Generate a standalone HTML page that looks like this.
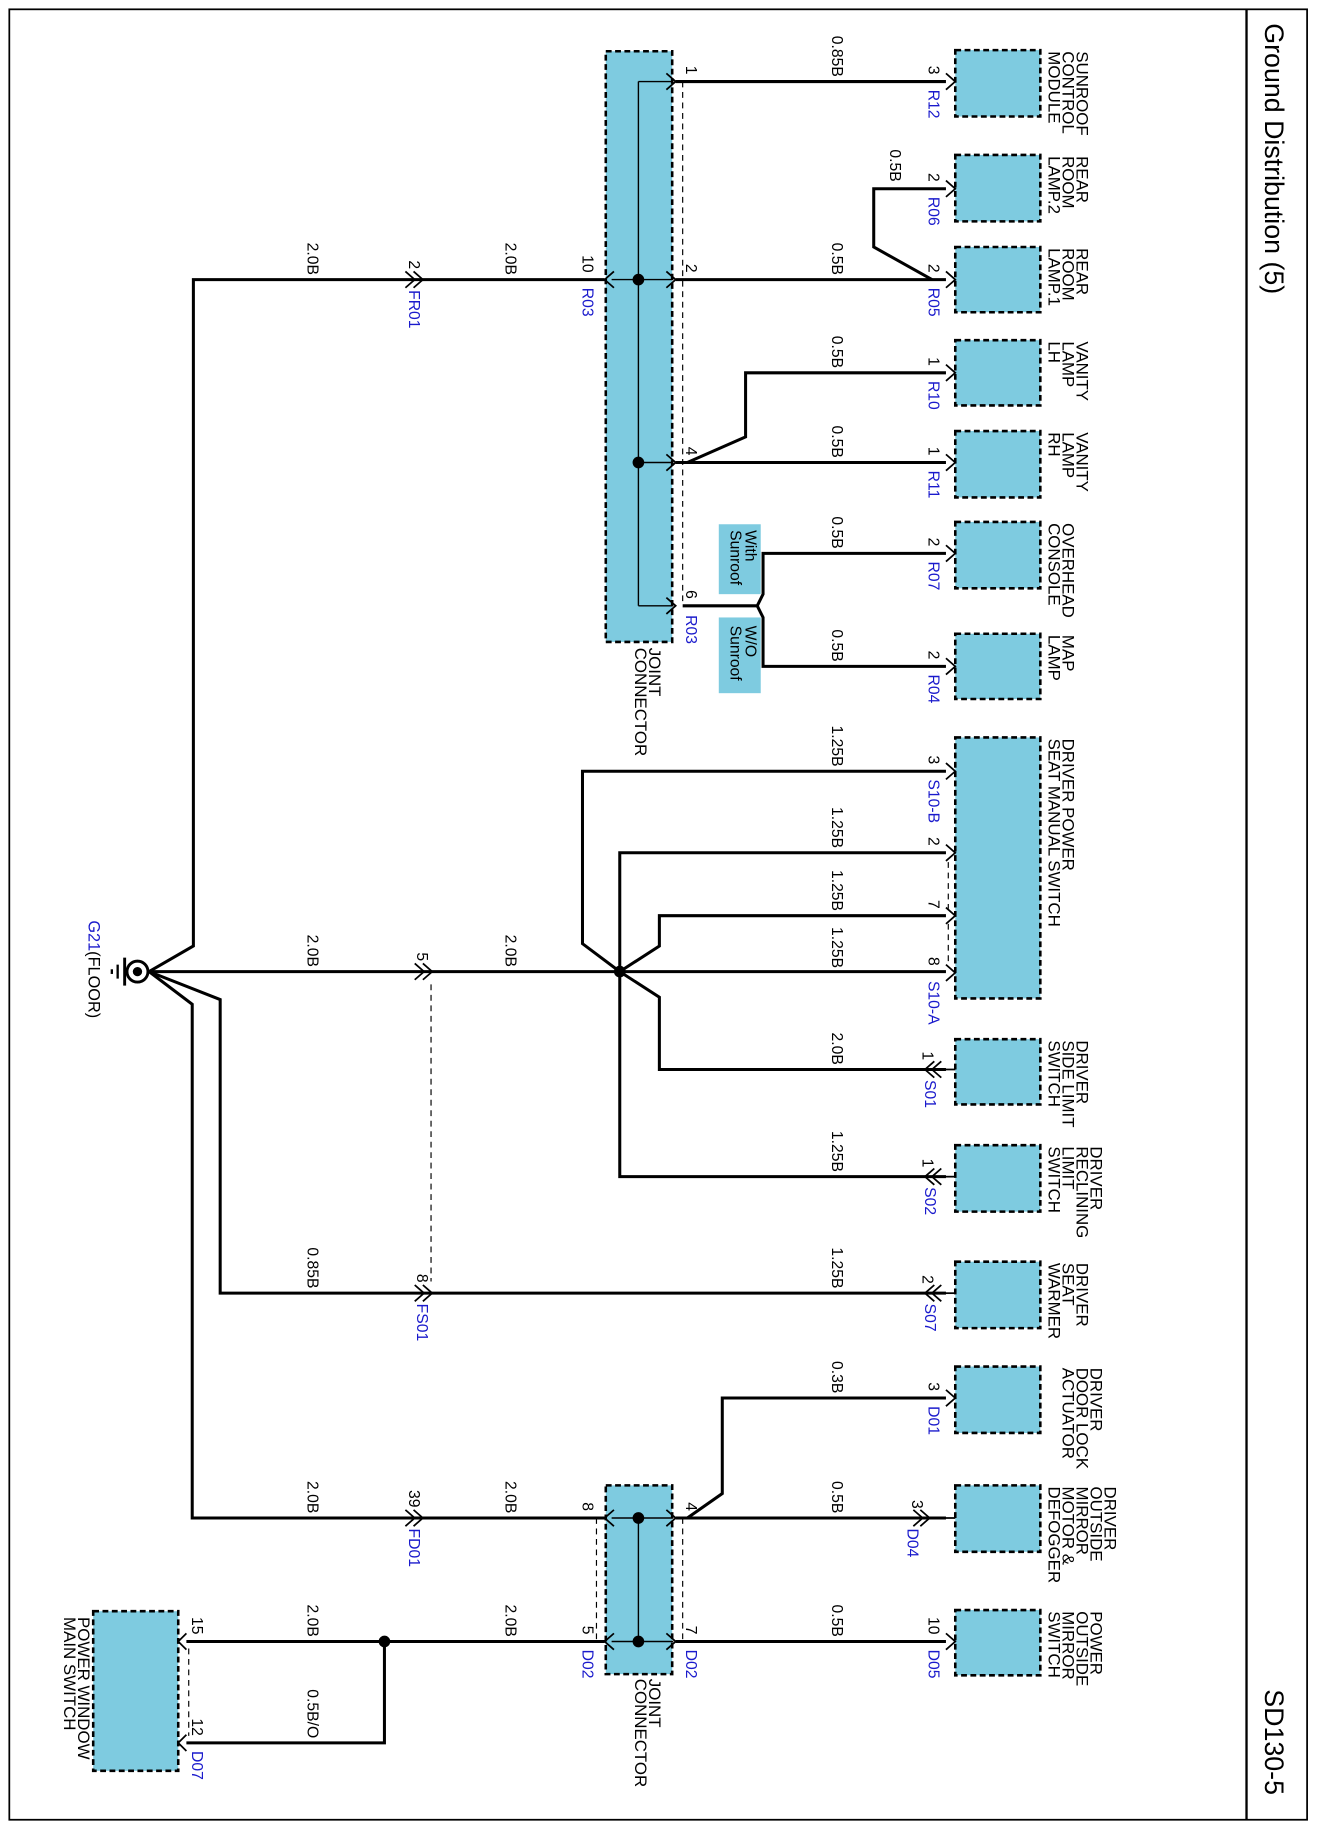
<!DOCTYPE html>
<html><head><meta charset="utf-8"><style>
html,body{margin:0;padding:0;background:#fff;}
svg{display:block;}
text{font-family:"Liberation Sans",Arial,sans-serif;}
.w{fill:none;stroke:#000;stroke-width:2.6;}
.t{fill:none;stroke:#000;stroke-width:1.2;}
.d{fill:none;stroke:#000;stroke-width:1;stroke-dasharray:5,4;}
.box{fill:#7ecbe0;stroke:#000;stroke-width:2.2;stroke-dasharray:5,3;}
.l{font-size:13.5px;fill:#000;}
.b{font-size:13.5px;fill:#1a1acc;}
.c{font-size:14.5px;fill:#000;}
</style></head><body>
<svg width="1317" height="1830" viewBox="0 0 1130.5 1570.8" preserveAspectRatio="none" xmlns="http://www.w3.org/2000/svg">
<rect x="8" y="8" width="1114" height="1554" fill="none" stroke="#000" stroke-width="1.5"/>
<line x1="1070" y1="8" x2="1070" y2="1562" stroke="#000" stroke-width="2"/>
<text transform="translate(1086,20) rotate(90)" style="font-size:23px">Ground Distribution (5)</text>
<text transform="translate(1086,1450) rotate(90)" style="font-size:23px">SD130-5</text>

<rect class="box" x="820" y="43" width="73" height="57"/>
<rect class="box" x="820" y="133" width="73" height="57"/>
<rect class="box" x="820" y="212" width="73" height="56"/>
<rect class="box" x="820" y="292" width="73" height="56"/>
<rect class="box" x="820" y="370" width="73" height="57"/>
<rect class="box" x="820" y="448" width="73" height="57"/>
<rect class="box" x="820" y="544" width="73" height="56"/>
<rect class="box" x="820" y="633" width="73" height="224"/>
<rect class="box" x="820" y="892" width="73" height="56"/>
<rect class="box" x="820" y="983" width="73" height="57"/>
<rect class="box" x="820" y="1083" width="73" height="57"/>
<rect class="box" x="820" y="1173" width="73" height="57"/>
<rect class="box" x="820" y="1275" width="73" height="57"/>
<rect class="box" x="820" y="1382" width="73" height="56"/>
<rect class="box" x="80" y="1383" width="73" height="137"/>
<rect class="box" x="520" y="44" width="57" height="507"/>
<rect class="box" x="520" y="1275" width="57" height="162"/>

<line class="t" x1="548" y1="70" x2="548" y2="520"/>
<line class="t" x1="548" y1="70" x2="578" y2="70"/>
<line class="t" x1="525" y1="240" x2="578" y2="240"/>
<line class="t" x1="548" y1="397" x2="578" y2="397"/>
<line class="t" x1="548" y1="520" x2="578" y2="520"/>
<line class="d" x1="586" y1="70" x2="586" y2="520"/>
<circle cx="548" cy="240" r="5"/><circle cx="548" cy="397" r="5"/>
<line class="t" x1="548" y1="1303" x2="548" y2="1409"/>
<line class="t" x1="525" y1="1303" x2="578" y2="1303"/>
<line class="t" x1="525" y1="1409" x2="578" y2="1409"/>
<line class="d" x1="512" y1="1303" x2="512" y2="1409"/>
<line class="d" x1="586" y1="1303" x2="586" y2="1409"/>
<circle cx="548" cy="1303" r="5"/><circle cx="548" cy="1409" r="5"/>

<g class="t" style="stroke-width:1.5">
<path d="M572,63 L580,70 L572,77"/><path d="M572,233 L580,240 L572,247"/><path d="M572,390 L580,397 L572,404"/><path d="M572,513 L580,520 L572,527"/>
<path d="M527,233 L519,240 L527,247"/>
<path d="M572,1296 L580,1303 L572,1310"/><path d="M572,1402 L580,1409 L572,1416"/>
<path d="M527,1296 L519,1303 L527,1310"/><path d="M527,1402 L519,1409 L527,1416"/>
</g>

<path class="w" d="M580,70 H812"/>
<path class="w" d="M812,162 H750 V212 L800,240"/>
<path class="w" d="M580,240 H812"/>
<path class="w" d="M812,320 H640 V375 L590,397"/>
<path class="w" d="M580,397 H812"/>
<path class="w" d="M586,520 H650 L655,510 V475 H812"/>
<path class="w" d="M650,520 L655,530 V572 H812"/>
<path class="w" d="M812,662 H500 V810 L532,834"/>
<path class="w" d="M812,732 H532 V1010 H812"/>
<path class="w" d="M812,786 H566 V812 L532,834 L566,856 V918 H812"/>
<path class="w" d="M128,834 H812"/>
<path class="w" d="M128,834 L166,812 V240 H519"/>
<path class="w" d="M128,834 L189,858 V1110 H812"/>
<path class="w" d="M128,834 L165,862 V1303 H519"/>
<path class="w" d="M580,1303 H812"/>
<path class="w" d="M590,1303 L620,1282 V1200 H812"/>
<path class="w" d="M580,1409 H812"/>
<path class="w" d="M519,1409 H160"/>
<path class="w" d="M330,1409 V1496 H160"/>
<circle cx="532" cy="834" r="5"/><circle cx="330" cy="1409" r="5"/>
<line class="d" x1="370" y1="845" x2="370" y2="1100"/>
<line class="d" x1="162" y1="1415" x2="162" y2="1490"/>
<line class="d" x1="814" y1="740" x2="814" y2="780"/>
<line class="d" x1="814" y1="793" x2="814" y2="828"/>

<g class="t" style="stroke-width:1.5">
<path d="M812,63 L820,70 L812,77"/><path d="M812,155 L820,162 L812,169"/><path d="M812,233 L820,240 L812,247"/>
<path d="M812,313 L820,320 L812,327"/><path d="M812,390 L820,397 L812,404"/><path d="M812,468 L820,475 L812,482"/>
<path d="M812,565 L820,572 L812,579"/><path d="M812,655 L820,662 L812,669"/><path d="M812,725 L820,732 L812,739"/>
<path d="M812,779 L820,786 L812,793"/><path d="M812,828 L820,835 L812,842"/>
<path d="M802,911 L794,918 L802,925"/><path d="M808,911 L800,918 L808,925"/><line x1="808" y1="918" x2="820" y2="918"/>
<path d="M802,1003 L794,1010 L802,1017"/><path d="M808,1003 L800,1010 L808,1017"/><line x1="808" y1="1010" x2="820" y2="1010"/>
<path d="M802,1103 L794,1110 L802,1117"/><path d="M808,1103 L800,1110 L808,1117"/><line x1="808" y1="1110" x2="820" y2="1110"/>
<path d="M812,1193 L820,1200 L812,1207"/>
<path d="M784,1296 L792,1303 L784,1310"/><path d="M790,1296 L798,1303 L790,1310"/><line x1="798" y1="1303" x2="820" y2="1303"/>
<path d="M812,1402 L820,1409 L812,1416"/>
<path d="M160,1402 L153,1409 L160,1416"/><path d="M160,1489 L153,1496 L160,1503"/>
<path d="M348,233 L356,240 L348,247"/><path d="M355,233 L363,240 L355,247"/>
<path d="M356,827 L364,834 L356,841"/><path d="M363,827 L371,834 L363,841"/>
<path d="M356,1103 L364,1110 L356,1117"/><path d="M363,1103 L371,1110 L363,1117"/>
<path d="M348,1296 L356,1303 L348,1310"/><path d="M355,1296 L363,1303 L355,1310"/>
</g>

<circle cx="118" cy="834" r="9" fill="#fff" stroke="#000" stroke-width="2.5"/>
<circle cx="118" cy="834" r="4"/>
<line x1="107" y1="822" x2="107" y2="846" stroke="#000" stroke-width="2.5"/>
<line x1="101" y1="828" x2="101" y2="840" stroke="#000" stroke-width="2"/>
<line x1="96" y1="832" x2="96" y2="836" stroke="#000" stroke-width="2"/>
<text transform="translate(76,790) rotate(90)" style="font-size:14px"><tspan fill="#1a1acc">G21</tspan><tspan fill="#000">(FLOOR)</tspan></text>

<g class="l" text-anchor="end">
<text transform="translate(714,66) rotate(90)">0.85B</text>
<text transform="translate(764,156) rotate(90)">0.5B</text>
<text transform="translate(714,236) rotate(90)">0.5B</text>
<text transform="translate(714,316) rotate(90)">0.5B</text>
<text transform="translate(714,393) rotate(90)">0.5B</text>
<text transform="translate(714,471) rotate(90)">0.5B</text>
<text transform="translate(714,568) rotate(90)">0.5B</text>
<text transform="translate(714,658) rotate(90)">1.25B</text>
<text transform="translate(714,728) rotate(90)">1.25B</text>
<text transform="translate(714,782) rotate(90)">1.25B</text>
<text transform="translate(714,831) rotate(90)">1.25B</text>
<text transform="translate(714,914) rotate(90)">2.0B</text>
<text transform="translate(714,1006) rotate(90)">1.25B</text>
<text transform="translate(714,1106) rotate(90)">1.25B</text>
<text transform="translate(714,1196) rotate(90)">0.3B</text>
<text transform="translate(714,1299) rotate(90)">0.5B</text>
<text transform="translate(714,1405) rotate(90)">0.5B</text>
<text transform="translate(264,236) rotate(90)">2.0B</text>
<text transform="translate(434,236) rotate(90)">2.0B</text>
<text transform="translate(264,830) rotate(90)">2.0B</text>
<text transform="translate(434,830) rotate(90)">2.0B</text>
<text transform="translate(264,1106) rotate(90)">0.85B</text>
<text transform="translate(264,1299) rotate(90)">2.0B</text>
<text transform="translate(434,1299) rotate(90)">2.0B</text>
<text transform="translate(264,1405) rotate(90)">2.0B</text>
<text transform="translate(434,1405) rotate(90)">2.0B</text>
<text transform="translate(264,1492) rotate(90)">0.5B/O</text>
</g>

<g class="l" text-anchor="end">
<text transform="translate(797,64) rotate(90)">3</text>
<text transform="translate(797,156) rotate(90)">2</text>
<text transform="translate(797,234) rotate(90)">2</text>
<text transform="translate(797,314) rotate(90)">1</text>
<text transform="translate(797,391) rotate(90)">1</text>
<text transform="translate(797,469) rotate(90)">2</text>
<text transform="translate(797,566) rotate(90)">2</text>
<text transform="translate(797,656) rotate(90)">3</text>
<text transform="translate(797,726) rotate(90)">2</text>
<text transform="translate(797,780) rotate(90)">7</text>
<text transform="translate(797,829) rotate(90)">8</text>
<text transform="translate(792,910) rotate(90)">1</text>
<text transform="translate(792,1002) rotate(90)">1</text>
<text transform="translate(792,1102) rotate(90)">2</text>
<text transform="translate(797,1194) rotate(90)">3</text>
<text transform="translate(783,1295) rotate(90)">3</text>
<text transform="translate(797,1403) rotate(90)">10</text>
<text transform="translate(589,64) rotate(90)">1</text>
<text transform="translate(589,234) rotate(90)">2</text>
<text transform="translate(589,391) rotate(90)">4</text>
<text transform="translate(589,514) rotate(90)">6</text>
<text transform="translate(500,234) rotate(90)">10</text>
<text transform="translate(351,231) rotate(90)">2</text>
<text transform="translate(358,825) rotate(90)">5</text>
<text transform="translate(358,1101) rotate(90)">8</text>
<text transform="translate(351,1294) rotate(90)">39</text>
<text transform="translate(500,1297) rotate(90)">8</text>
<text transform="translate(500,1403) rotate(90)">5</text>
<text transform="translate(589,1297) rotate(90)">4</text>
<text transform="translate(589,1403) rotate(90)">7</text>
<text transform="translate(165,1403) rotate(90)">15</text>
<text transform="translate(165,1490) rotate(90)">12</text>
</g>

<g class="b">
<text transform="translate(797,77) rotate(90)">R12</text>
<text transform="translate(797,169) rotate(90)">R06</text>
<text transform="translate(797,247) rotate(90)">R05</text>
<text transform="translate(797,327) rotate(90)">R10</text>
<text transform="translate(797,404) rotate(90)">R11</text>
<text transform="translate(797,482) rotate(90)">R07</text>
<text transform="translate(797,579) rotate(90)">R04</text>
<text transform="translate(797,669) rotate(90)">S10-B</text>
<text transform="translate(797,842) rotate(90)">S10-A</text>
<text transform="translate(794,927) rotate(90)">S01</text>
<text transform="translate(794,1019) rotate(90)">S02</text>
<text transform="translate(794,1119) rotate(90)">S07</text>
<text transform="translate(797,1207) rotate(90)">D01</text>
<text transform="translate(779,1312) rotate(90)">D04</text>
<text transform="translate(797,1416) rotate(90)">D05</text>
<text transform="translate(500,247) rotate(90)">R03</text>
<text transform="translate(589,528) rotate(90)">R03</text>
<text transform="translate(351,249) rotate(90)">FR01</text>
<text transform="translate(358,1119) rotate(90)">FS01</text>
<text transform="translate(351,1312) rotate(90)">FD01</text>
<text transform="translate(500,1416) rotate(90)">D02</text>
<text transform="translate(589,1416) rotate(90)">D02</text>
<text transform="translate(165,1503) rotate(90)">D07</text>
</g>

<rect x="617" y="450" width="36" height="60" fill="#7ecbe0"/>
<rect x="617" y="530" width="36" height="65" fill="#7ecbe0"/>
<g class="l">
<text transform="translate(640,455) rotate(90)">With</text>
<text transform="translate(627,455) rotate(90)">Sunroof</text>
<text transform="translate(640,537) rotate(90)">W/O</text>
<text transform="translate(627,537) rotate(90)">Sunroof</text>
</g>

<g class="c">
<text transform="translate(924,44) rotate(90)">SUNROOF</text><text transform="translate(912,44) rotate(90)">CONTROL</text><text transform="translate(900,44) rotate(90)">MODULE</text>
<text transform="translate(924,134) rotate(90)">REAR</text><text transform="translate(912,134) rotate(90)">ROOM</text><text transform="translate(900,134) rotate(90)">LAMP.2</text>
<text transform="translate(924,213) rotate(90)">REAR</text><text transform="translate(912,213) rotate(90)">ROOM</text><text transform="translate(900,213) rotate(90)">LAMP.1</text>
<text transform="translate(924,293) rotate(90)">VANITY</text><text transform="translate(912,293) rotate(90)">LAMP</text><text transform="translate(900,293) rotate(90)">LH</text>
<text transform="translate(924,371) rotate(90)">VANITY</text><text transform="translate(912,371) rotate(90)">LAMP</text><text transform="translate(900,371) rotate(90)">RH</text>
<text transform="translate(912,449) rotate(90)">OVERHEAD</text><text transform="translate(900,449) rotate(90)">CONSOLE</text>
<text transform="translate(912,545) rotate(90)">MAP</text><text transform="translate(900,545) rotate(90)">LAMP</text>
<text transform="translate(912,634) rotate(90)">DRIVER POWER</text><text transform="translate(900,634) rotate(90)">SEAT MANUAL SWITCH</text>
<text transform="translate(924,893) rotate(90)">DRIVER</text><text transform="translate(912,893) rotate(90)">SIDE LIMIT</text><text transform="translate(900,893) rotate(90)">SWITCH</text>
<text transform="translate(936,984) rotate(90)">DRIVER</text><text transform="translate(924,984) rotate(90)">RECLINING</text><text transform="translate(912,984) rotate(90)">LIMIT</text><text transform="translate(900,984) rotate(90)">SWITCH</text>
<text transform="translate(924,1084) rotate(90)">DRIVER</text><text transform="translate(912,1084) rotate(90)">SEAT</text><text transform="translate(900,1084) rotate(90)">WARMER</text>
<text transform="translate(936,1174) rotate(90)">DRIVER</text><text transform="translate(924,1174) rotate(90)">DOOR LOCK</text><text transform="translate(912,1174) rotate(90)">ACTUATOR</text>
<text transform="translate(948,1276) rotate(90)">DRIVER</text><text transform="translate(936,1276) rotate(90)">OUTSIDE</text><text transform="translate(924,1276) rotate(90)">MIRROR</text><text transform="translate(912,1276) rotate(90)">MOTOR &amp;</text><text transform="translate(900,1276) rotate(90)">DEFOGGER</text>
<text transform="translate(936,1383) rotate(90)">POWER</text><text transform="translate(924,1383) rotate(90)">OUTSIDE</text><text transform="translate(912,1383) rotate(90)">MIRROR</text><text transform="translate(900,1383) rotate(90)">SWITCH</text>
<text transform="translate(557,556) rotate(90)">JOINT</text><text transform="translate(545,556) rotate(90)">CONNECTOR</text>
<text transform="translate(557,1441) rotate(90)">JOINT</text><text transform="translate(545,1441) rotate(90)">CONNECTOR</text>
<text transform="translate(67,1388) rotate(90)">POWER WINDOW</text><text transform="translate(55,1388) rotate(90)">MAIN SWITCH</text>
</g>
</svg>
</body></html>
